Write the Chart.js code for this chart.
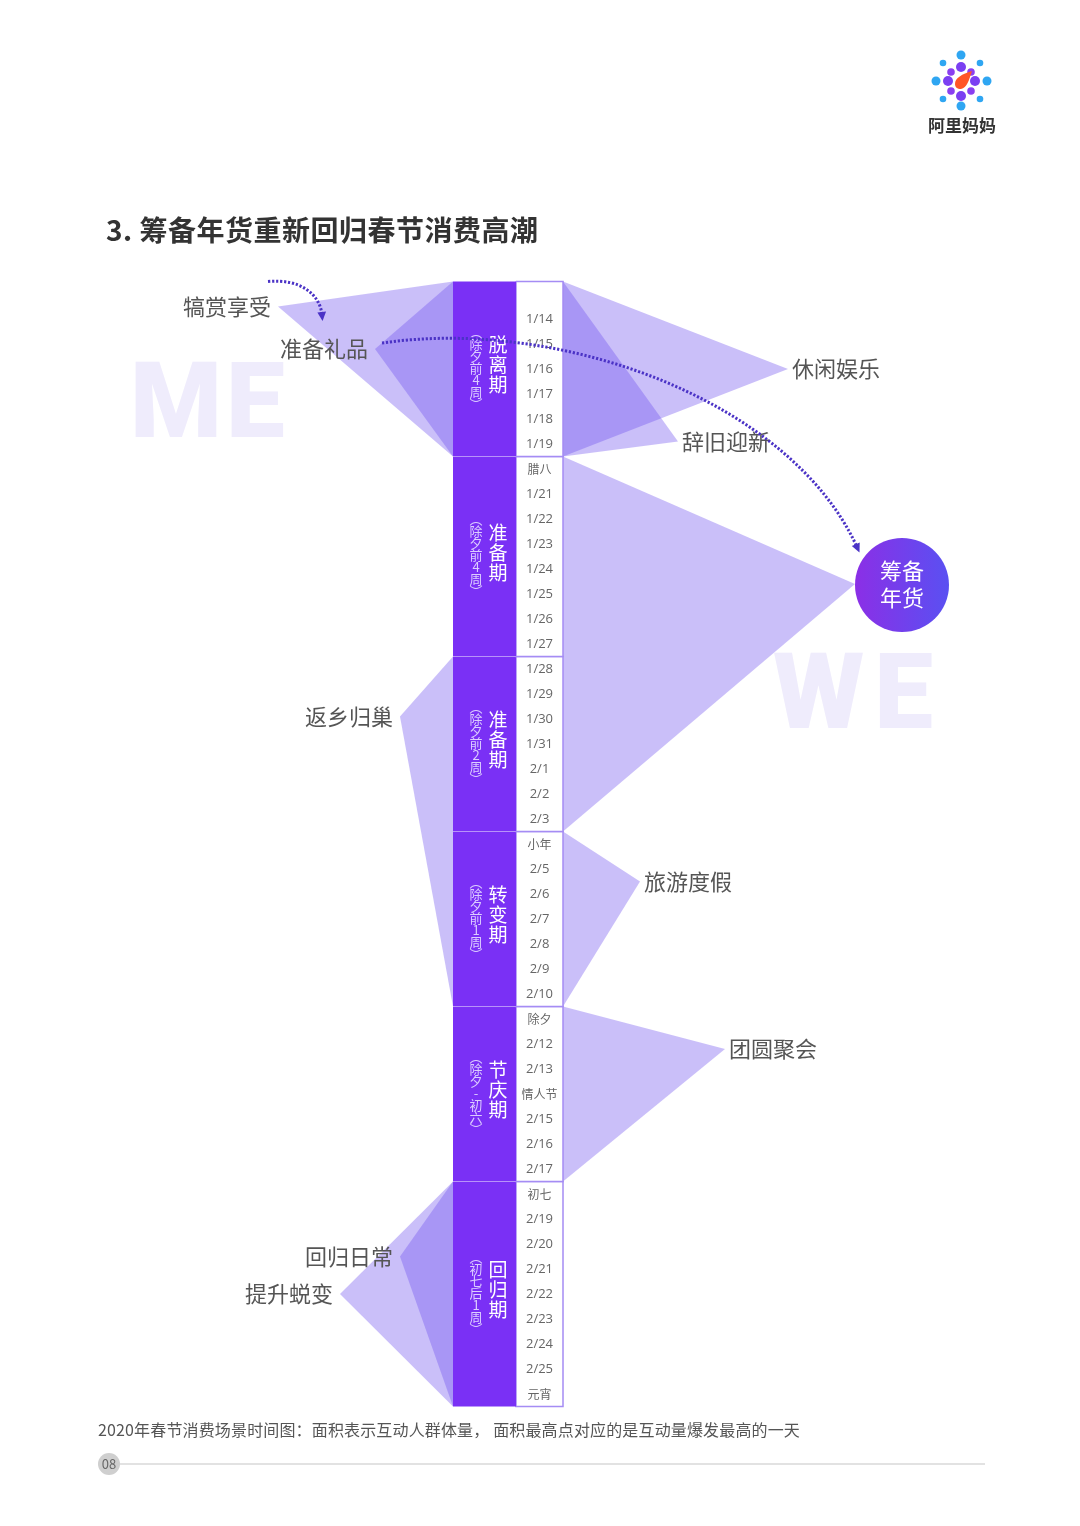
<!DOCTYPE html>
<html>
<head>
<meta charset="utf-8">
<script src="https://cdn.jsdelivr.net/npm/chart.js@4.4.1/dist/chart.umd.min.js"></script>
<style>
  body { margin: 0; background: #fff; }
  #page { position: relative; width: 1080px; height: 1526px; overflow: hidden; font-family: "Noto Sans CJK SC", sans-serif; }
  #myChart { position: absolute; left: 0; top: 0; }
  .title { position: absolute; left: 106px; top: 211px; font-size: 28px; letter-spacing: 0.5px; line-height: 36px; font-weight: 700; color: #333; white-space: nowrap; }
  .note { position: absolute; left: 98px; top: 1417px; font-size: 16px; letter-spacing: 0.15px; line-height: 24px; color: #555; white-space: nowrap; }
  .pageno { position: absolute; left: 98px; top: 1453px; width: 22px; height: 22px; border-radius: 50%; background: #cfcfcf; color: #666; font-size: 13px; line-height: 22px; text-align: center; }
  .rule { position: absolute; left: 120px; top: 1463px; width: 865px; height: 2px; background: #e2e2e2; }
  .logo { position: absolute; left: 920px; top: 45px; }
  .logotext { position: absolute; left: 922px; top: 113px; width: 80px; text-align: center; font-size: 17px; font-weight: 700; color: #333; line-height: 24px; }
</style>
</head>
<body>
<div id="page">
  <canvas id="myChart" width="1080" height="1526"></canvas>
  <svg class="logo" width="85" height="68" viewBox="920 45 85 68">
    <circle cx="961" cy="55" r="4.5" fill="#2fa6f2"/>
    <circle cx="961" cy="67" r="5" fill="#7b3ff2"/>
    <circle cx="936" cy="81" r="4.5" fill="#2fa6f2"/>
    <circle cx="948" cy="81" r="5" fill="#7b3ff2"/>
    <circle cx="987" cy="81" r="4.5" fill="#2fa6f2"/>
    <circle cx="975" cy="81" r="5" fill="#7b3ff2"/>
    <circle cx="961" cy="96" r="5" fill="#7b3ff2"/>
    <circle cx="961" cy="106" r="4.5" fill="#2fa6f2"/>
    <circle cx="943" cy="63" r="3.3" fill="#2fa6f2"/>
    <circle cx="980" cy="63" r="3.3" fill="#2fa6f2"/>
    <circle cx="943" cy="99" r="3.3" fill="#2fa6f2"/>
    <circle cx="980" cy="99" r="3.3" fill="#2fa6f2"/>
    <circle cx="951" cy="72" r="3.8" fill="#8a3ff0"/>
    <circle cx="971" cy="72" r="3.8" fill="#8a3ff0"/>
    <circle cx="951" cy="91" r="3.8" fill="#8a3ff0"/>
    <circle cx="971" cy="91" r="3.8" fill="#8a3ff0"/>
    <path d="M955 84 C955 78 962 74 972 71 C969 80 967 88 961 89 C957 89 955 87 955 84 Z" fill="#ff5526"/>
  </svg>
  <div class="logotext">阿里妈妈</div>
  <div class="title">3. 筹备年货重新回归春节消费高潮</div>
  <div class="note">2020年春节消费场景时间图：面积表示互动人群体量，&nbsp;面积最高点对应的是互动量爆发最高的一天</div>
  <div class="rule"></div>
  <div class="pageno">08</div>
</div>

<script>
// rows of the date column, top to bottom (row -1 is the blank row above 1/14)
var dateLabels = ['1/14', '1/15', '1/16', '1/17', '1/18', '1/19', '腊八', '1/21', '1/22', '1/23', '1/24',
    '1/25', '1/26', '1/27', '1/28', '1/29', '1/30', '1/31', '2/1', '2/2', '2/3', '小年', '2/5', '2/6',
    '2/7', '2/8', '2/9', '2/10', '除夕', '2/12', '2/13', '情人节', '2/15', '2/16', '2/17', '初七',
    '2/19', '2/20', '2/21', '2/22', '2/23', '2/24', '2/25', '元宵'];

// phases of the purple bar
var phaseNames = ['脱离期', '准备期', '准备期', '转变期', '节庆期', '回归期'];
var phaseNotes = ['除夕前4周', '除夕前4周', '除夕前2周', '除夕前1周', '除夕-初六', '初七后1周'];
var phaseFirst = [-1, 6, 14, 21, 28, 35];
var phaseLast = [5, 13, 20, 27, 34, 43];

// consumption scenes (area shapes)
var sceneNames = ['犒赏享受', '准备礼品', '休闲娱乐', '辞旧迎新', '筹备年货', '旅游度假', '团圆聚会', '返乡归巢', '回归日常', '提升蜕变'];
var sceneSide = ['left', 'left', 'right', 'right', 'right', 'right', 'right', 'left', 'left', 'left'];
var sceneFirst = [-1, -1, -1, -1, 6, 21, 28, 14, 35, 35];
var sceneLast = [5, 5, 5, 5, 20, 27, 34, 27, 43, 43];
var scenePeak = [-0.5, 1.2, 2, 4.9, 10.6, 22.5, 29.2, 15.9, 37.5, 39];
var sceneReach = [175, 78, 225, 115, 292, 77, 162, 53, 53, 113];

var BAR_LEFT = 453, BAR_RIGHT = 516, COL_RIGHT = 563;
var myChart;

function rect(x1, x2, r1, r2) {
    return [{ x: x1, y: r1 }, { x: x2, y: r1 }, { x: x2, y: r2 }, { x: x1, y: r2 }, { x: x1, y: r1 }];
}

function scenePoints(i) {
    var base = sceneSide[i] == 'left' ? BAR_LEFT : COL_RIGHT;
    var tip = sceneSide[i] == 'left' ? base - sceneReach[i] : base + sceneReach[i];
    return [
        { x: base, y: sceneFirst[i] - 0.5 },
        { x: tip, y: scenePeak[i] },
        { x: base, y: sceneLast[i] + 0.5 },
        { x: base, y: sceneFirst[i] - 0.5 }
    ];
}

var datasets = [];

for (var i = 0; i < sceneNames.length; i++) {
    datasets.push({
        label: sceneNames[i],
        data: scenePoints(i),
        showLine: true,
        fill: 'shape',
        backgroundColor: 'rgba(112, 82, 240, 0.37)',
        borderWidth: 0,
        pointRadius: 0,
        order: 3
    });
}

for (var p = 0; p < phaseNames.length; p++) {
    datasets.push({
        label: phaseNames[p],
        data: rect(BAR_LEFT, BAR_RIGHT, phaseFirst[p] - 0.5, phaseLast[p] + 0.5),
        showLine: true,
        fill: 'shape',
        backgroundColor: '#7a30f5',
        borderColor: '#7a30f5',
        borderWidth: 0,
        pointRadius: 0,
        order: 2
    });
    datasets.push({
        label: phaseNames[p] + ' 日期',
        data: rect(BAR_RIGHT, COL_RIGHT, phaseFirst[p] - 0.5, phaseLast[p] + 0.5),
        showLine: true,
        fill: 'shape',
        backgroundColor: '#ffffff',
        borderColor: '#a58cf4',
        borderWidth: 1.5,
        pointRadius: 0,
        order: 2
    });
    if (p > 0) {
        datasets.push({
            label: 'sep' + p,
            data: [{ x: BAR_LEFT, y: phaseFirst[p] - 0.5 }, { x: BAR_RIGHT, y: phaseFirst[p] - 0.5 }],
            showLine: true,
            borderColor: 'rgba(255,255,255,0.3)',
            borderWidth: 1,
            pointRadius: 0,
            order: 1
        });
    }
}

function drawVertical(ctx, text, x, cy, step) {
    var chars = Array.from(text);
    var y0 = cy - (chars.length - 1) * step / 2;
    for (var k = 0; k < chars.length; k++) {
        ctx.fillText(chars[k], x, y0 + k * step);
    }
}

function dottedArrow(ctx, p0, c1, c2, p3) {
    ctx.save();
    ctx.strokeStyle = '#4b33c6';
    ctx.fillStyle = '#4b33c6';
    ctx.lineWidth = 3;
    ctx.setLineDash([2.2, 1.8]);
    ctx.beginPath();
    ctx.moveTo(p0.x, p0.y);
    ctx.bezierCurveTo(c1.x, c1.y, c2.x, c2.y, p3.x, p3.y);
    ctx.stroke();
    ctx.setLineDash([]);
    var a = Math.atan2(p3.y - c2.y, p3.x - c2.x);
    var tipX = p3.x + Math.cos(a) * 6, tipY = p3.y + Math.sin(a) * 6;
    ctx.beginPath();
    ctx.moveTo(tipX, tipY);
    ctx.lineTo(tipX - Math.cos(a - 0.45) * 10, tipY - Math.sin(a - 0.45) * 10);
    ctx.lineTo(tipX - Math.cos(a + 0.45) * 10, tipY - Math.sin(a + 0.45) * 10);
    ctx.closePath();
    ctx.fill();
    ctx.restore();
}

function spacedText(ctx, text, x, y, gap) {
    var chars = Array.from(text);
    for (var k = 0; k < chars.length; k++) {
        ctx.fillText(chars[k], x, y);
        x += ctx.measureText(chars[k]).width + gap;
    }
}

var decorPlugin = {
    id: 'decor',
    beforeDatasetsDraw: function (chart) {
        var ctx = chart.ctx;
        ctx.save();
        ctx.fillStyle = '#efecfc';
        ctx.font = '900 105px Roboto, "Open Sans", sans-serif';
        ctx.textBaseline = 'alphabetic';
        ctx.textAlign = 'left';
        spacedText(ctx, 'ME', 130, 437, 4);
        spacedText(ctx, 'WE', 773, 728, 10);
        ctx.restore();
    },
    afterDatasetsDraw: function (chart) {
        var ctx = chart.ctx;
        var xs = chart.scales.x, ys = chart.scales.y;
        ctx.save();
        ctx.textAlign = 'center';
        ctx.textBaseline = 'middle';

        // date column
        ctx.fillStyle = '#666';
        var colX = xs.getPixelForValue((BAR_RIGHT + COL_RIGHT) / 2);
        for (var r = 0; r < dateLabels.length; r++) {
            var isDigit = /^[0-9]/.test(dateLabels[r]);
            ctx.font = isDigit ? '13px "Open Sans", sans-serif' : '12px "Noto Sans CJK SC", sans-serif';
            ctx.fillText(dateLabels[r], colX, ys.getPixelForValue(r));
        }

        // phase texts in the bar
        for (var p = 0; p < phaseNames.length; p++) {
            var cy = ys.getPixelForValue((phaseFirst[p] + phaseLast[p]) / 2) - 4;
            ctx.fillStyle = '#ffffff';
            ctx.font = '19px "Noto Sans CJK SC", sans-serif';
            drawVertical(ctx, phaseNames[p], xs.getPixelForValue(BAR_LEFT + 45), cy, 20);
            ctx.fillStyle = '#dccdff';
            ctx.font = '13px "Noto Sans CJK SC", sans-serif';
            drawVertical(ctx, '︵' + phaseNotes[p] + '︶', xs.getPixelForValue(BAR_LEFT + 23), cy + 3, 12);
        }

        // scene labels at the peaks
        ctx.fillStyle = '#555';
        ctx.font = '22px "Noto Sans CJK SC", sans-serif';
        var tips = [];
        for (var i = 0; i < sceneNames.length; i++) {
            var left = sceneSide[i] == 'left';
            var tx = left ? BAR_LEFT - sceneReach[i] : COL_RIGHT + sceneReach[i];
            var px = xs.getPixelForValue(tx), py = ys.getPixelForValue(scenePeak[i]);
            tips.push({ x: px, y: py });
            if (sceneNames[i] == '筹备年货') continue;
            ctx.textAlign = left ? 'right' : 'left';
            ctx.fillText(sceneNames[i], left ? px - 7 : px + 4, py);
        }

        // highlighted scene bubble
        var hot = tips[4];
        var cx = hot.x + 47, ccy = hot.y + 1;
        var grad = ctx.createLinearGradient(cx - 47, ccy, cx + 47, ccy);
        grad.addColorStop(0, '#8b2fe6');
        grad.addColorStop(1, '#5a50f2');
        ctx.fillStyle = grad;
        ctx.beginPath();
        ctx.arc(cx, ccy, 47, 0, Math.PI * 2);
        ctx.fill();
        ctx.fillStyle = '#ffffff';
        ctx.textAlign = 'center';
        ctx.font = '22px "Noto Sans CJK SC", sans-serif';
        ctx.fillText('筹备', cx, ccy - 14);
        ctx.fillText('年货', cx, ccy + 13);

        // dotted arrows
        var a0 = tips[0], a1 = tips[1];
        dottedArrow(ctx, { x: a0.x - 10, y: a0.y - 25 }, { x: a0.x + 22, y: a0.y - 28 },
            { x: a1.x - 55, y: a1.y - 55 }, { x: a1.x - 53, y: a1.y - 34 });
        dottedArrow(ctx, { x: a1.x + 7, y: a1.y - 6 }, { x: a1.x + 185, y: a1.y - 32 },
            { x: cx - 112, y: ccy - 185 }, { x: cx - 45, y: ccy - 38 });

        ctx.restore();
    }
};

var initChart = function () {
    var ctx = document.getElementById('myChart');
    myChart = new Chart(ctx, {
        type: 'scatter',
        data: { datasets: datasets },
        options: {
            responsive: false,
            animation: false,
            layout: { padding: 0 },
            plugins: {
                legend: { display: false },
                tooltip: { enabled: false }
            },
            scales: {
                x: { type: 'linear', display: false, min: 0, max: 1080 },
                y: { type: 'linear', display: false, reverse: true, min: -12.76, max: 48.28 }
            }
        },
        plugins: [decorPlugin]
    });
};

initChart();
</script>
</body>
</html>
